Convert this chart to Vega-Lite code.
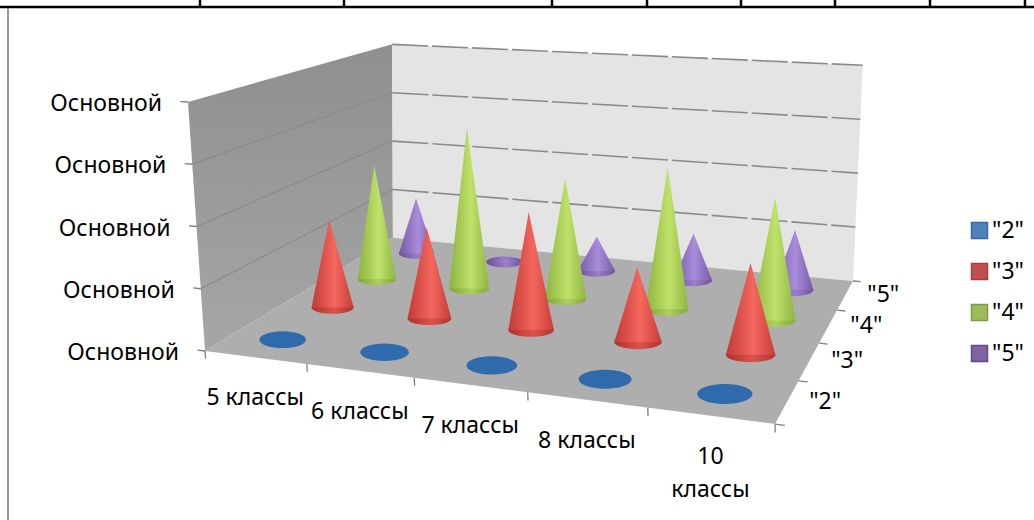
{
"$schema":"https://vega.github.io/schema/vega-lite/v6.json",
"width":1034,"height":520,"padding":0,"autosize":"none","background":"white",
"config":{"view":{"stroke":null},"text":{"font":"Noto Sans"},"legend":{"labelFont":"Noto Sans"}},
"data":{"values":[
{"class":"5 классы","grade":"\"2\"","value":0},{"class":"6 классы","grade":"\"2\"","value":0},{"class":"7 классы","grade":"\"2\"","value":0},{"class":"8 классы","grade":"\"2\"","value":0},{"class":"10 классы","grade":"\"2\"","value":0},
{"class":"5 классы","grade":"\"3\"","value":1.54},{"class":"6 классы","grade":"\"3\"","value":1.56},{"class":"7 классы","grade":"\"3\"","value":1.97},{"class":"8 классы","grade":"\"3\"","value":1.22},{"class":"10 классы","grade":"\"3\"","value":1.46},
{"class":"5 классы","grade":"\"4\"","value":2.13},{"class":"6 классы","grade":"\"4\"","value":2.94},{"class":"7 классы","grade":"\"4\"","value":2.15},{"class":"8 классы","grade":"\"4\"","value":2.47},{"class":"10 классы","grade":"\"4\"","value":2.09},
{"class":"5 классы","grade":"\"5\"","value":1.1},{"class":"6 классы","grade":"\"5\"","value":0.02},{"class":"7 классы","grade":"\"5\"","value":0.65},{"class":"8 классы","grade":"\"5\"","value":0.87},{"class":"10 классы","grade":"\"5\"","value":1.09},
{"part":"leftWall","seq":0,"u":0,"v":0,"z":0},{"part":"leftWall","seq":1,"u":0,"v":1,"z":0},{"part":"leftWall","seq":2,"u":0,"v":1,"z":1},{"part":"leftWall","seq":3,"u":0,"v":0,"z":1},
{"part":"backWall","seq":0,"u":0,"v":1,"z":0},{"part":"backWall","seq":1,"u":1,"v":1,"z":0},{"part":"backWall","seq":2,"u":1,"v":1,"z":1},{"part":"backWall","seq":3,"u":0,"v":1,"z":1},
{"part":"floor","seq":0,"u":0,"v":0,"z":0},{"part":"floor","seq":1,"u":1,"v":0,"z":0},{"part":"floor","seq":2,"u":1,"v":1,"z":0},{"part":"floor","seq":3,"u":0,"v":1,"z":0},
{"part":"gridLeft","id":"a","seq":0,"u":0,"v":0,"z":0.25},{"part":"gridLeft","id":"a","seq":1,"u":0,"v":1,"z":0.25},
{"part":"gridLeft","id":"b","seq":0,"u":0,"v":0,"z":0.5},{"part":"gridLeft","id":"b","seq":1,"u":0,"v":1,"z":0.5},
{"part":"gridLeft","id":"c","seq":0,"u":0,"v":0,"z":0.75},{"part":"gridLeft","id":"c","seq":1,"u":0,"v":1,"z":0.75},
{"part":"gridBack","id":"a","seq":0,"u":0,"v":1,"z":0.25},{"part":"gridBack","id":"a","seq":1,"u":1,"v":1,"z":0.25},
{"part":"gridBack","id":"b","seq":0,"u":0,"v":1,"z":0.5},{"part":"gridBack","id":"b","seq":1,"u":1,"v":1,"z":0.5},
{"part":"gridBack","id":"c","seq":0,"u":0,"v":1,"z":0.75},{"part":"gridBack","id":"c","seq":1,"u":1,"v":1,"z":0.75},
{"part":"gridBack","id":"d","seq":0,"u":0,"v":1,"z":1},{"part":"gridBack","id":"d","seq":1,"u":1,"v":1,"z":1},
{"part":"tick","id":"z0","seq":0,"u":0,"v":0,"z":0},{"part":"tick","id":"z0","seq":1,"u":-0.015,"v":0,"z":0},
{"part":"tick","id":"z1","seq":0,"u":0,"v":0,"z":0.25},{"part":"tick","id":"z1","seq":1,"u":-0.015,"v":0,"z":0.25},
{"part":"tick","id":"z2","seq":0,"u":0,"v":0,"z":0.5},{"part":"tick","id":"z2","seq":1,"u":-0.015,"v":0,"z":0.5},
{"part":"tick","id":"z3","seq":0,"u":0,"v":0,"z":0.75},{"part":"tick","id":"z3","seq":1,"u":-0.015,"v":0,"z":0.75},
{"part":"tick","id":"z4","seq":0,"u":0,"v":0,"z":1},{"part":"tick","id":"z4","seq":1,"u":-0.015,"v":0,"z":1},
{"part":"tick","id":"u0","seq":0,"u":0,"v":0,"z":0},{"part":"tick","id":"u0","seq":1,"u":0,"v":0,"z":-0.03},
{"part":"tick","id":"u1","seq":0,"u":0.2,"v":0,"z":0},{"part":"tick","id":"u1","seq":1,"u":0.2,"v":0,"z":-0.03},
{"part":"tick","id":"u2","seq":0,"u":0.4,"v":0,"z":0},{"part":"tick","id":"u2","seq":1,"u":0.4,"v":0,"z":-0.03},
{"part":"tick","id":"u3","seq":0,"u":0.6,"v":0,"z":0},{"part":"tick","id":"u3","seq":1,"u":0.6,"v":0,"z":-0.03},
{"part":"tick","id":"u4","seq":0,"u":0.8,"v":0,"z":0},{"part":"tick","id":"u4","seq":1,"u":0.8,"v":0,"z":-0.03},
{"part":"tick","id":"u5","seq":0,"u":1,"v":0,"z":0},{"part":"tick","id":"u5","seq":1,"u":1,"v":0,"z":-0.03},
{"part":"tick","id":"v0","seq":0,"u":1,"v":0,"z":0},{"part":"tick","id":"v0","seq":1,"u":1.015,"v":0,"z":0},
{"part":"tick","id":"v1","seq":0,"u":1,"v":0.25,"z":0},{"part":"tick","id":"v1","seq":1,"u":1.015,"v":0.25,"z":0},
{"part":"tick","id":"v2","seq":0,"u":1,"v":0.5,"z":0},{"part":"tick","id":"v2","seq":1,"u":1.015,"v":0.5,"z":0},
{"part":"tick","id":"v3","seq":0,"u":1,"v":0.75,"z":0},{"part":"tick","id":"v3","seq":1,"u":1.015,"v":0.75,"z":0},
{"part":"tick","id":"v4","seq":0,"u":1,"v":1,"z":0},{"part":"tick","id":"v4","seq":1,"u":1.015,"v":1,"z":0},
{"part":"zLabel","label":"Основной","u":0,"v":0,"z":0},{"part":"zLabel","label":"Основной","u":0,"v":0,"z":0.25},{"part":"zLabel","label":"Основной","u":0,"v":0,"z":0.5},{"part":"zLabel","label":"Основной","u":0,"v":0,"z":0.75},{"part":"zLabel","label":"Основной","u":0,"v":0,"z":1},
{"part":"classLabel","label":"5 классы","u":0.1,"v":0,"z":0},{"part":"classLabel","label":"6 классы","u":0.3,"v":0,"z":0},{"part":"classLabel","label":"7 классы","u":0.5,"v":0,"z":0},{"part":"classLabel","label":"8 классы","u":0.7,"v":0,"z":0},{"part":"classLabel","label":"10\nклассы","u":0.9,"v":0,"z":0},
{"part":"gradeLabel","label":"\"2\"","u":1,"v":0.125,"z":0},{"part":"gradeLabel","label":"\"3\"","u":1,"v":0.375,"z":0},{"part":"gradeLabel","label":"\"4\"","u":1,"v":0.625,"z":0},{"part":"gradeLabel","label":"\"5\"","u":1,"v":0.875,"z":0},
{"part":"table","pageX":0,"pageX2":1034,"pageY":7,"pageY2":7},
{"part":"table","pageX":200,"pageX2":200,"pageY":0,"pageY2":7},{"part":"table","pageX":344,"pageX2":344,"pageY":0,"pageY2":7},{"part":"table","pageX":552,"pageX2":552,"pageY":0,"pageY2":7},{"part":"table","pageX":647,"pageX2":647,"pageY":0,"pageY2":7},{"part":"table","pageX":741,"pageX2":741,"pageY":0,"pageY2":7},{"part":"table","pageX":835,"pageX2":835,"pageY":0,"pageY2":7},{"part":"table","pageX":930,"pageX2":930,"pageY":0,"pageY2":7},{"part":"table","pageX":1025,"pageX2":1025,"pageY":0,"pageY2":7},
{"part":"frame","pageX":8,"pageX2":8,"pageY":8,"pageY2":520}
]},
"transform":[
{"calculate":"datum.class ? (indexof(['5 классы','6 классы','7 классы','8 классы','10 классы'],datum.class)+0.5)/5 : datum.u","as":"uu"},
{"calculate":"datum.class ? (indexof(['\"2\"','\"3\"','\"4\"','\"5\"'],datum.grade)+0.5)/4 : datum.v","as":"vv"},
{"calculate":"datum.class ? datum.value/4 : datum.z","as":"zz"},
{"calculate":"1-0.13*datum.uu+0.261*datum.vv","as":"w"},
{"calculate":"(469.25*datum.uu+290.5*datum.vv+205+(-17+16*datum.vv+12*datum.uu)*datum.zz)/datum.w","as":"px"},
{"calculate":"(17.9*datum.uu-51.1*datum.vv+351+(-249+5*datum.vv)*datum.zz)/datum.w","as":"py"},
{"calculate":"(469.25*datum.uu+290.5*datum.vv+205)/datum.w","as":"fx"},
{"calculate":"(17.9*datum.uu-51.1*datum.vv+351)/datum.w","as":"fy"},
{"calculate":"24/pow(datum.w,1.6)","as":"r"},
{"calculate":"4*datum.r*datum.r","as":"s"}
],
"encoding":{
"x":{"field":"px","type":"quantitative","scale":{"domain":[0,1034],"range":[0,1034]},"axis":null},
"y":{"field":"py","type":"quantitative","scale":{"domain":[0,520],"range":[0,520]},"axis":null}
},
"layer":[
{"transform":[{"filter":"datum.part==='leftWall'"}],"mark":{"type":"line","interpolate":"linear-closed","strokeWidth":0,"fill":{"gradient":"linear","x1":0,"y1":0,"x2":0,"y2":1,"stops":[{"offset":0,"color":"#8f8f8f"},{"offset":1,"color":"#a6a6a6"}]}},"encoding":{"order":{"field":"seq"}}},
{"transform":[{"filter":"datum.part==='backWall'"}],"mark":{"type":"line","interpolate":"linear-closed","strokeWidth":0,"fill":"#e4e4e4"},"encoding":{"order":{"field":"seq"}}},
{"transform":[{"filter":"datum.part==='gridLeft'"}],"mark":{"type":"line","color":"#8a8a8a","strokeWidth":1.1},"encoding":{"detail":{"field":"id"},"order":{"field":"seq"}}},
{"transform":[{"filter":"datum.part==='gridBack'"}],"mark":{"type":"line","color":"#8a8a8a","strokeWidth":1.6,"strokeDash":[36,4]},"encoding":{"detail":{"field":"id"},"order":{"field":"seq"}}},
{"transform":[{"filter":"datum.part==='floor'"}],"mark":{"type":"line","interpolate":"linear-closed","strokeWidth":0,"fill":"#aeaeae"},"encoding":{"order":{"field":"seq"}}},
{"transform":[{"filter":"datum.part==='tick'"}],"mark":{"type":"line","color":"#808080","strokeWidth":1.3},"encoding":{"detail":{"field":"id"},"order":{"field":"seq"}}},
{"transform":[{"filter":"datum.part==='table'"}],"mark":{"type":"rule","color":"#000000","strokeWidth":2.5},"encoding":{"x":{"field":"pageX","type":"quantitative"},"x2":{"field":"pageX2"},"y":{"field":"pageY","type":"quantitative"},"y2":{"field":"pageY2"}}},
{"transform":[{"filter":"datum.part==='frame'"}],"mark":{"type":"rule","color":"#808080","strokeWidth":1.6},"encoding":{"x":{"field":"pageX","type":"quantitative"},"x2":{"field":"pageX2"},"y":{"field":"pageY","type":"quantitative"},"y2":{"field":"pageY2"}}},
{"transform":[{"filter":"datum.part==='zLabel'"}],"mark":{"type":"text","align":"right","baseline":"middle","dx":-26,"dy":2,"fontSize":23,"color":"#000000"},"encoding":{"text":{"field":"label"}}},
{"transform":[{"filter":"datum.part==='classLabel'"}],"mark":{"type":"text","align":"center","baseline":"top","dy":30,"fontSize":23,"lineBreak":"\n","lineHeight":33,"color":"#000000"},"encoding":{"text":{"field":"label"}}},
{"transform":[{"filter":"datum.part==='gradeLabel'"}],"mark":{"type":"text","align":"left","baseline":"middle","dx":22,"fontSize":23,"color":"#000000"},"encoding":{"text":{"field":"label"}}},

{"transform":[{"filter":"datum.grade==='\"5\"'"}],"mark":{"type":"point","filled":true,"opacity":1,"shape":"M-1,0A1,0.3,0,1,1,1,0A1,0.3,0,1,1,-1,0Z","fill":{"gradient":"linear","x1":0,"y1":0,"x2":1,"y2":0,"stops":[{"offset":0,"color":"#6d5099"},{"offset":0.55,"color":"#9a7ecb"},{"offset":1,"color":"#6f529c"}]}},"encoding":{"x":{"field":"fx","type":"quantitative"},"y":{"field":"fy","type":"quantitative"},"size":{"field":"s","type":"quantitative","scale":null}}},
{"transform":[{"filter":"datum.grade==='\"5\"'"},{"fold":["fy","py"],"as":["end","yy"]},{"calculate":"datum.end==='fy'?datum.fx-datum.r:datum.px","as":"xl"},{"calculate":"datum.end==='fy'?datum.fx+datum.r:datum.px","as":"xr"}],"mark":{"type":"area","orient":"horizontal","fill":{"gradient":"linear","x1":0,"y1":0,"x2":1,"y2":0,"stops":[{"offset":0,"color":"#7558a6"},{"offset":0.55,"color":"#a98ddb"},{"offset":1,"color":"#7759a8"}]}},"encoding":{"x":{"field":"xl","type":"quantitative"},"x2":{"field":"xr"},"y":{"field":"yy","type":"quantitative"},"detail":{"field":"class"}}},

{"transform":[{"filter":"datum.grade==='\"4\"'"}],"mark":{"type":"point","filled":true,"opacity":1,"shape":"M-1,0A1,0.3,0,1,1,1,0A1,0.3,0,1,1,-1,0Z","fill":{"gradient":"linear","x1":0,"y1":0,"x2":1,"y2":0,"stops":[{"offset":0,"color":"#7fa537"},{"offset":0.55,"color":"#aed05c"},{"offset":1,"color":"#82a83a"}]}},"encoding":{"x":{"field":"fx","type":"quantitative"},"y":{"field":"fy","type":"quantitative"},"size":{"field":"s","type":"quantitative","scale":null}}},
{"transform":[{"filter":"datum.grade==='\"4\"'"},{"fold":["fy","py"],"as":["end","yy"]},{"calculate":"datum.end==='fy'?datum.fx-datum.r:datum.px","as":"xl"},{"calculate":"datum.end==='fy'?datum.fx+datum.r:datum.px","as":"xr"}],"mark":{"type":"area","orient":"horizontal","fill":{"gradient":"linear","x1":0,"y1":0,"x2":1,"y2":0,"stops":[{"offset":0,"color":"#8cb33e"},{"offset":0.55,"color":"#bfe26a"},{"offset":1,"color":"#8fb642"}]}},"encoding":{"x":{"field":"xl","type":"quantitative"},"x2":{"field":"xr"},"y":{"field":"yy","type":"quantitative"},"detail":{"field":"class"}}},

{"transform":[{"filter":"datum.grade==='\"3\"'"}],"mark":{"type":"point","filled":true,"opacity":1,"shape":"M-1,0A1,0.3,0,1,1,1,0A1,0.3,0,1,1,-1,0Z","fill":{"gradient":"linear","x1":0,"y1":0,"x2":1,"y2":0,"stops":[{"offset":0,"color":"#ae312d"},{"offset":0.55,"color":"#dd524b"},{"offset":1,"color":"#b03430"}]}},"encoding":{"x":{"field":"fx","type":"quantitative"},"y":{"field":"fy","type":"quantitative"},"size":{"field":"s","type":"quantitative","scale":null}}},
{"transform":[{"filter":"datum.grade==='\"3\"'"},{"fold":["fy","py"],"as":["end","yy"]},{"calculate":"datum.end==='fy'?datum.fx-datum.r:datum.px","as":"xl"},{"calculate":"datum.end==='fy'?datum.fx+datum.r:datum.px","as":"xr"}],"mark":{"type":"area","orient":"horizontal","fill":{"gradient":"linear","x1":0,"y1":0,"x2":1,"y2":0,"stops":[{"offset":0,"color":"#c23a35"},{"offset":0.55,"color":"#f4675f"},{"offset":1,"color":"#c43d38"}]}},"encoding":{"x":{"field":"xl","type":"quantitative"},"x2":{"field":"xr"},"y":{"field":"yy","type":"quantitative"},"detail":{"field":"class"}}},

{"transform":[{"filter":"datum.grade==='\"2\"'"}],"mark":{"type":"point","filled":true,"opacity":1,"shape":"M-1,0A1,0.36,0,1,1,1,0A1,0.36,0,1,1,-1,0Z","fill":"#2f6aad"},"encoding":{"x":{"field":"fx","type":"quantitative"},"y":{"field":"fy","type":"quantitative"},"size":{"field":"s","type":"quantitative","scale":null}}},

{"transform":[{"filter":"datum.value!=null"}],"mark":{"type":"point","filled":true,"opacity":1,"shape":"square"},"encoding":{"size":{"value":0},
"color":{"field":"grade","type":"nominal","scale":{"domain":["\"2\"","\"3\"","\"4\"","\"5\""],"range":["#4f81bd","#c0504d","#9bbb59","#8064a2"]},"legend":{"title":null,"orient":"none","legendX":968,"legendY":219,"padding":0,"symbolType":"square","symbolSize":256,"symbolStrokeWidth":1.5,"symbolOpacity":1,"labelFontSize":23,"labelFont":"Noto Sans","labelColor":"#000000","labelOffset":1,"rowPadding":17}},
"stroke":{"field":"grade","type":"nominal","scale":{"domain":["\"2\"","\"3\"","\"4\"","\"5\""],"range":["#3a6aa5","#a33f3c","#7f9b45","#64498a"]},"legend":{"title":null,"orient":"none","legendX":968,"legendY":219,"padding":0,"symbolType":"square","symbolSize":256,"symbolStrokeWidth":1.5,"symbolOpacity":1,"labelFontSize":23,"labelFont":"Noto Sans","labelColor":"#000000","labelOffset":1,"rowPadding":17}}}}
]
}
